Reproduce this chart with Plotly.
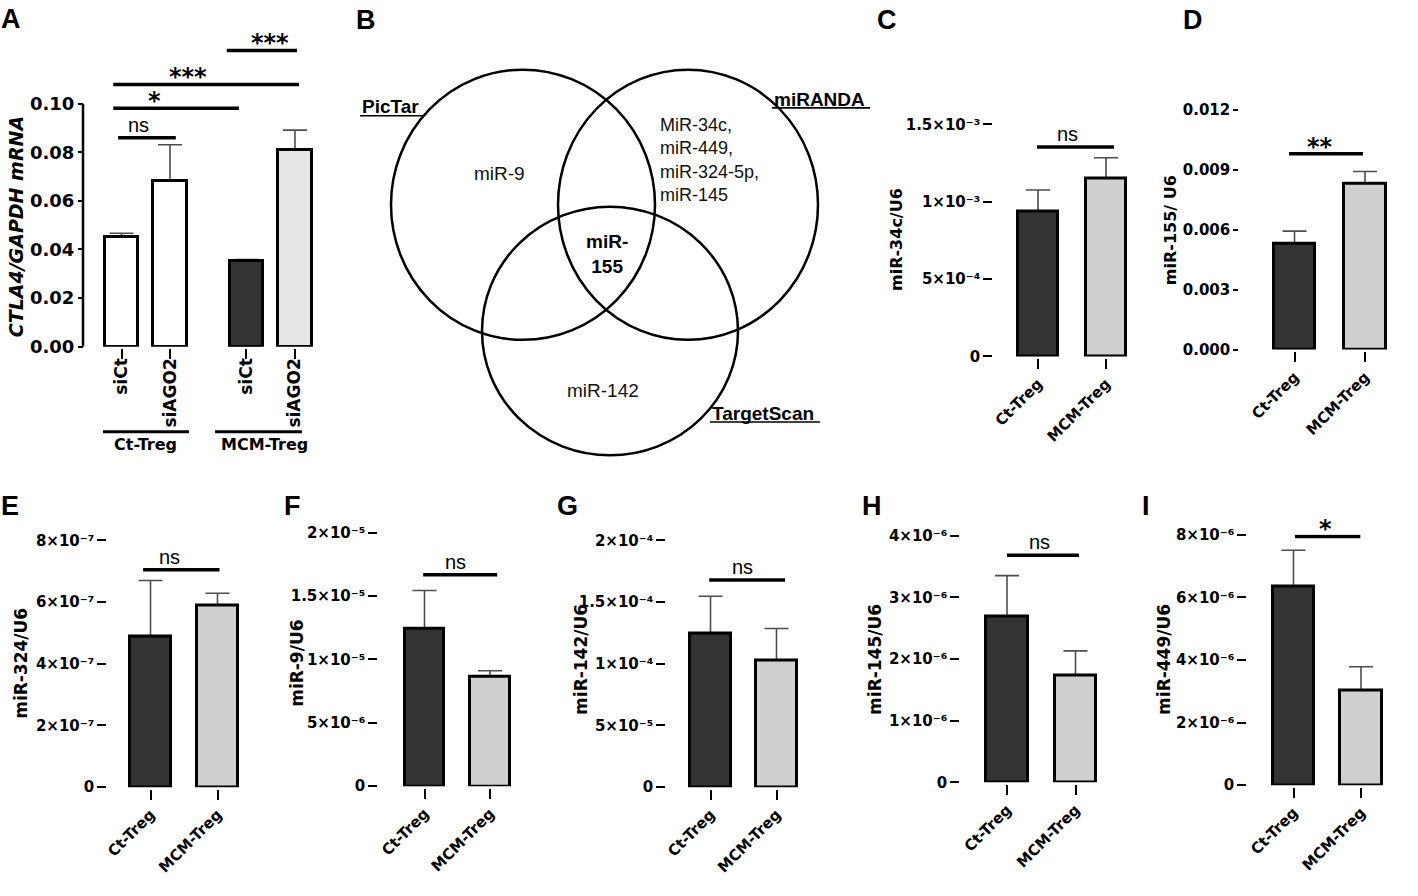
import plotly.graph_objects as go

W, H = 1418, 896

# ---------------- data ----------------
treg_groups = ["Ct-Treg", "MCM-Treg"]

# Panel A : CTLA4/GAPDH mRNA
a_conditions = ["siCt", "siAGO2", "siCt", "siAGO2"]
a_groups = ["Ct-Treg", "MCM-Treg"]
a_means = [0.0450, 0.0681, 0.0352, 0.0810]
a_sems = [0.0017, 0.0150, 0.0007, 0.0081]
a_yticks = [0.00, 0.02, 0.04, 0.06, 0.08, 0.10]
a_yticklabels = ["0.00", "0.02", "0.04", "0.06", "0.08", "0.10"]

# Panel C : miR-34c/U6
c_means = [0.937e-3, 1.152e-3]
c_sems = [0.139e-3, 0.133e-3]
c_yticks = [0, 5e-4, 1e-3, 1.5e-3]
c_yticklabels = ["0", "5×10⁻⁴", "1×10⁻³", "1.5×10⁻³"]

# Panel D : miR-155/U6
d_means = [0.00529, 0.00828]
d_sems = [0.00064, 0.00063]
d_yticks = [0, 0.003, 0.006, 0.009, 0.012]
d_yticklabels = ["0.000", "0.003", "0.006", "0.009", "0.012"]

# Panel E : miR-324/U6
e_means = [4.89e-7, 5.90e-7]
e_sems = [1.81e-7, 0.39e-7]
e_yticks = [0, 2e-7, 4e-7, 6e-7, 8e-7]
e_yticklabels = ["0", "2×10⁻⁷", "4×10⁻⁷", "6×10⁻⁷", "8×10⁻⁷"]

# Panel F : miR-9/U6
f_means = [1.243e-5, 0.865e-5]
f_sems = [0.301e-5, 0.046e-5]
f_yticks = [0, 5e-6, 1e-5, 1.5e-5, 2e-5]
f_yticklabels = ["0", "5×10⁻⁶", "1×10⁻⁵", "1.5×10⁻⁵", "2×10⁻⁵"]

# Panel G : miR-142/U6
g_means = [1.246e-4, 1.030e-4]
g_sems = [0.302e-4, 0.256e-4]
g_yticks = [0, 5e-5, 1e-4, 1.5e-4, 2e-4]
g_yticklabels = ["0", "5×10⁻⁵", "1×10⁻⁴", "1.5×10⁻⁴", "2×10⁻⁴"]

# Panel H : miR-145/U6
h_means = [2.68e-6, 1.73e-6]
h_sems = [0.67e-6, 0.40e-6]
h_yticks = [0, 1e-6, 2e-6, 3e-6, 4e-6]
h_yticklabels = ["0", "1×10⁻⁶", "2×10⁻⁶", "3×10⁻⁶", "4×10⁻⁶"]

# Panel I : miR-449/U6
i_means = [6.34e-6, 3.03e-6]
i_sems = [1.16e-6, 0.75e-6]
i_yticks = [0, 2e-6, 4e-6, 6e-6, 8e-6]
i_yticklabels = ["0", "2×10⁻⁶", "4×10⁻⁶", "6×10⁻⁶", "8×10⁻⁶"]

# significance brackets: (x start, x end, height, label, label x)
a_sig = [(-0.07, 1.12, 0.0860, "ns", 0.36), (-0.17, 2.42, 0.0981, "*", 0.67),
         (-0.17, 3.66, 0.1079, "***", 1.37), (2.17, 3.62, 0.1219, "***", 3.06)]
c_sig = [(-0.015, 1.118, 1.354e-3, "ns", 0.43)]
d_sig = [(-0.078, 0.972, 0.0098, "**", 0.36)]
e_sig = [(-0.11, 1.03, 7.05e-7, "ns", 0.28)]
f_sig = [(-0.02, 1.11, 1.668e-5, "ns", 0.47)]
g_sig = [(-0.02, 1.13, 1.68e-4, "ns", 0.48)]
h_sig = [(0.0, 1.05, 3.68e-6, "ns", 0.48)]
i_sig = [(0.02, 0.99, 7.94e-6, "*", 0.48)]

# Venn diagram (panel B)
venn_sets = ["PicTar", "miRANDA", "TargetScan"]
venn_cx = [523, 688, 610]
venn_cy = [200, 200, 329]
venn_rx = [132, 130, 128]
venn_ry = [138, 138, 127]
venn_only_pictar = "miR-9"
venn_only_miranda = ["MiR-34c,", "miR-449,", "miR-324-5p,", "miR-145"]
venn_only_targetscan = "miR-142"
venn_all = ["miR-", "155"]

# ---------------- helpers ----------------
def fx(px):
    return px / W


def fy(py):
    return 1 - py / H


DARK = "#333333"
LIGHT = "#cfcfcf"
BOLD = "DejaVu Sans"
layout = dict(width=W, height=H, autosize=False, margin=dict(l=0, r=0, t=0, b=0),
              paper_bgcolor="white", plot_bgcolor="rgba(0,0,0,0)", showlegend=False,
              font=dict(family="DejaVu Sans", color="black"))
shapes, annotations = [], []
err_traces, bar_traces = [], []


def panel(k, geo, pos, means, sems, colors, xlabels, xangle, xfs, yticks, yticklabels, yfs,
          sig, ytitle, ytitle_xy, ytitle_fs, custom_yline=False, xstandoff=0, yticklen=9):
    xn = "x" if k == 1 else "x%d" % k
    yn = "y" if k == 1 else "y%d" % k
    xk = "xaxis" if k == 1 else "xaxis%d" % k
    yk = "yaxis" if k == 1 else "yaxis%d" % k
    topval = yticks[-1]
    rng_top = geo.get("rng_top", topval)
    top_px = geo["y0"] - (geo["y0"] - geo["ytop"]) * rng_top / topval
    xr = [(geo["xs"] - geo["c0"]) / geo["sp"], (geo["xe"] - geo["c0"]) / geo["sp"]]
    layout[xk] = dict(domain=[fx(geo["xs"]), fx(geo["xe"])], range=xr, anchor=yn,
                      showline=True, linewidth=2.5, linecolor="black", ticks="outside",
                      ticklen=10, tickwidth=2, tickcolor="black", tickvals=pos, ticktext=xlabels,
                      tickangle=xangle, showgrid=False, zeroline=False, fixedrange=True,
                      ticklabelstandoff=xstandoff,
                      tickfont=dict(family=BOLD, size=xfs, color="black", weight="bold"))
    layout[yk] = dict(domain=[fy(geo["y0"]), fy(top_px)], range=[0, rng_top], anchor="free",
                      position=fx(geo["yax"]), showline=not custom_yline, linewidth=2.5,
                      linecolor="black", ticks="outside", ticklen=yticklen, tickwidth=2,
                      tickcolor="black", tickvals=yticks, ticktext=yticklabels,
                      showgrid=False, zeroline=False, fixedrange=True,
                      tickfont=dict(family=BOLD, size=yfs, color="black", weight="bold"))
    if custom_yline:
        shapes.append(dict(type="line", xref="paper", yref=yn, x0=fx(geo["yax"]), x1=fx(geo["yax"]),
                           y0=0, y1=topval, line=dict(color="black", width=2.5)))
    err_traces.append(go.Scatter(x=pos, y=means, mode="markers", xaxis=xn, yaxis=yn,
                                 marker=dict(size=2, opacity=0), hoverinfo="skip", zorder=-1,
                                 error_y=dict(type="data", symmetric=False, array=sems,
                                              arrayminus=[0] * len(sems), color="#4d4d4d",
                                              thickness=1.6, width=12)))
    bar_traces.append(go.Bar(x=pos, y=means, width=geo["bw"], xaxis=xn, yaxis=yn,
                             marker=dict(color=colors, line=dict(color="black", width=3)),
                             hoverinfo="skip"))
    for (x0, x1, yv, txt, tx) in sig:
        shapes.append(dict(type="line", xref=xn, yref=yn, x0=x0, x1=x1, y0=yv, y1=yv,
                           line=dict(color="black", width=3.5)))
        if txt == "ns":
            annotations.append(dict(x=tx, y=yv, xref=xn, yref=yn, text=txt, showarrow=False,
                                    xanchor="center", yanchor="middle", yshift=13,
                                    font=dict(family="Liberation Sans", size=20, color="black")))
        else:
            annotations.append(dict(x=tx, y=yv, xref=xn, yref=yn, text=txt, showarrow=False,
                                    xanchor="center", yanchor="middle", yshift=7,
                                    font=dict(family=BOLD, size=24, color="black", weight="bold")))
    annotations.append(dict(x=fx(ytitle_xy[0]), y=fy(ytitle_xy[1]), xref="paper", yref="paper",
                            text=ytitle, textangle=-90, showarrow=False, xanchor="center",
                            yanchor="middle",
                            font=dict(family=BOLD, size=ytitle_fs, color="black", weight="bold")))


two = [0, 1]
# Panel A
panel(1, dict(yax=83, xs=72, xe=333, y0=345, ytop=96.7, rng_top=0.125, c0=121.5, sp=48.5, bw=0.70),
      [0, 1, 2.577, 3.577], a_means, a_sems, ["white", "white", DARK, "#e6e6e6"], a_conditions,
      -90, 17, a_yticks, a_yticklabels, 18, a_sig, "<i>CTLA4/GAPDH mRNA</i>", (16, 223), 19,
      custom_yline=True, xstandoff=-8, yticklen=5)
# group brackets under panel A
a_group_lines = [(-0.38, 1.39), (1.93, 3.72)]
a_group_text_x = [0.485, 2.94]
for (gx0, gx1), gtx, gname in zip(a_group_lines, a_group_text_x, a_groups):
    shapes.append(dict(type="line", xref="x", yref="paper", x0=gx0, x1=gx1, y0=fy(432), y1=fy(432),
                       line=dict(color="black", width=3)))
    annotations.append(dict(x=gtx, y=fy(445), xref="x", yref="paper", text=gname, showarrow=False,
                            xanchor="center", yanchor="middle",
                            font=dict(family=BOLD, size=16, color="black", weight="bold")))

panel(2, dict(yax=993, xs=983, xe=1153, y0=355, ytop=118, c0=1038, sp=68, bw=0.60),
      two, c_means, c_sems, [DARK, LIGHT], treg_groups, -45, 15, c_yticks, c_yticklabels, 15,
      c_sig, "miR-34c/U6", (897, 236), 16)
panel(3, dict(yax=1239, xs=1231, xe=1413, y0=348, ytop=103, c0=1294.5, sp=70.5, bw=0.59),
      two, d_means, d_sems, [DARK, LIGHT], treg_groups, -45, 15, d_yticks, d_yticklabels, 15,
      d_sig, "miR-155/ U6", (1170, 226), 16, yticklen=5)
panel(4, dict(yax=107, xs=97, xe=263, y0=795, ytop=543, c0=150.5, sp=67, bw=0.60),
      two, e_means, e_sems, [DARK, LIGHT], treg_groups, -45, 15, e_yticks, e_yticklabels, 15,
      e_sig, "miR-324/U6", (21, 669), 17)
panel(5, dict(yax=378, xs=369, xe=535, y0=794, ytop=535, c0=424.5, sp=65.5, bw=0.61),
      two, f_means, f_sems, [DARK, LIGHT], treg_groups, -45, 15, f_yticks, f_yticklabels, 15,
      f_sig, "miR-9/U6", (297, 669), 17)
panel(6, dict(yax=666, xs=656, xe=823, y0=795, ytop=543, c0=710.5, sp=66, bw=0.61),
      two, g_means, g_sems, [DARK, LIGHT], treg_groups, -45, 15, g_yticks, g_yticklabels, 15,
      g_sig, "miR-142/U6", (581, 665), 17)
panel(7, dict(yax=960, xs=951, xe=1123, y0=790, ytop=538, c0=1007, sp=68.5, bw=0.61),
      two, h_means, h_sems, [DARK, LIGHT], treg_groups, -45, 15, h_yticks, h_yticklabels, 15,
      h_sig, "miR-145/U6", (875, 665), 17)
panel(8, dict(yax=1247, xs=1238, xe=1406, y0=793, ytop=537, c0=1293.5, sp=67.5, bw=0.61),
      two, i_means, i_sems, [DARK, LIGHT], treg_groups, -45, 15, i_yticks, i_yticklabels, 15,
      i_sig, "miR-449/U6", (1164, 665), 17)

# ---------------- Panel B : Venn diagram ----------------
layout["xaxis9"] = dict(domain=[fx(340), fx(880)], range=[340, 880], anchor="y9", visible=False,
                        fixedrange=True)
layout["yaxis9"] = dict(domain=[fy(472), fy(30)], range=[472, 30], anchor="x9", visible=False,
                        fixedrange=True)
venn_trace = go.Scatter(x=venn_cx, y=venn_cy, mode="markers", xaxis="x9", yaxis="y9",
                        marker=dict(size=1, opacity=0), hoverinfo="skip")
for cx, cy, rx, ry in zip(venn_cx, venn_cy, venn_rx, venn_ry):
    shapes.append(dict(type="circle", xref="x9", yref="y9", x0=cx - rx, x1=cx + rx,
                       y0=cy - ry, y1=cy + ry, line=dict(color="black", width=2.5)))

VFONT = "Liberation Sans"
venn_label_pos = [(390, 100), (819, 92), (763, 413)]
venn_underline = [(360, 423, 109), (772, 870, 101), (710, 820, 422)]
for name, (lx, ly), (ux0, ux1, uy) in zip(venn_sets, venn_label_pos, venn_underline):
    annotations.append(dict(x=lx, y=ly, xref="x9", yref="y9", text="<b>%s</b>" % name,
                            showarrow=False, xanchor="center", yanchor="middle",
                            font=dict(family=VFONT, size=19, color="black")))
    shapes.append(dict(type="line", xref="x9", yref="y9", x0=ux0, x1=ux1, y0=uy, y1=uy,
                       line=dict(color="black", width=1.6)))
annotations.append(dict(x=499, y=168, xref="x9", yref="y9", text=venn_only_pictar, showarrow=False,
                        xanchor="center", yanchor="middle",
                        font=dict(family=VFONT, size=19, color="#111111")))
annotations.append(dict(x=658, y=154, xref="x9", yref="y9", text="<br>".join(venn_only_miranda),
                        showarrow=False, xanchor="left", yanchor="middle", align="left",
                        font=dict(family=VFONT, size=18, color="#111111")))
annotations.append(dict(x=603, y=390, xref="x9", yref="y9", text=venn_only_targetscan,
                        showarrow=False, xanchor="center", yanchor="middle",
                        font=dict(family=VFONT, size=19, color="#111111")))
annotations.append(dict(x=607, y=250, xref="x9", yref="y9", text="<b>" + "<br>".join(venn_all) + "</b>",
                        showarrow=False, xanchor="center", yanchor="middle", align="center",
                        font=dict(family=VFONT, size=19, color="black")))

# ---------------- panel letters ----------------
panel_letters = ["A", "B", "C", "D", "E", "F", "G", "H", "I"]
letter_pos = [(11, 10), (366, 11), (887, 11), (1193, 11), (10, 508), (292, 508), (567, 508),
              (872, 508), (1146, 508)]
for letter, (lx, ly) in zip(panel_letters, letter_pos):
    annotations.append(dict(x=fx(lx), y=fy(ly), xref="paper", yref="paper", text="<b>%s</b>" % letter,
                            showarrow=False, xanchor="center", yanchor="middle",
                            font=dict(family="Liberation Sans", size=27, color="black")))

layout["shapes"] = shapes
layout["annotations"] = annotations
layout["bargap"] = 0

fig = go.Figure(data=err_traces + bar_traces + [venn_trace], layout=layout)
fig.write_html("out.html", config={"displayModeBar": False},
               post_script="document.body.style.margin='0px';")
